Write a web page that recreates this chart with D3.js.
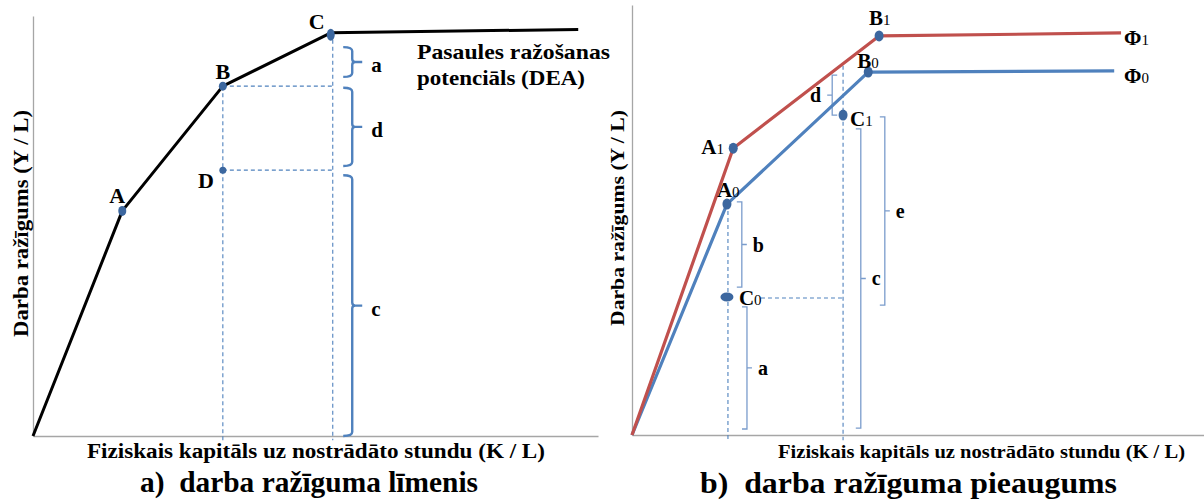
<!DOCTYPE html>
<html>
<head>
<meta charset="utf-8">
<script src="https://cdn.jsdelivr.net/npm/d3@7"></script>
<style>
  body { margin: 0; background: #fff; }
  svg { display: block; }
  text { font-family: "Liberation Serif", "Times New Roman", serif; font-weight: bold; fill: #000; }
</style>
</head>
<body>
<svg id="chart" width="1204" height="501"></svg>
<script>
// ---------- Panel a: labour productivity level ----------
// World production frontier (K/L, Y/L), relative units
const frontierA = [[0, 0], [15.8, 53.6], [33.6, 83.3], [52.7, 96.0], [96.5, 96.8]];
const pointsA = [
  { id: "A", x: 15.8, y: 53.6 },
  { id: "B", x: 33.6, y: 83.3 },
  { id: "C", x: 52.7, y: 96.0 },
  { id: "D", x: 33.6, y: 63.3 }
];
// Gap braces: label, upper and lower Y/L bound
const bracesA = [
  { label: "a", top: 92.6, bottom: 85.5 },
  { label: "d", top: 82.9, bottom: 64.3 },
  { label: "c", top: 62.1, bottom: 0 }
];
const braceAX = 56.5;
const frontierLabelA = ["Pasaules ražošanas", "potenciāls (DEA)"];

// ---------- Panel b: labour productivity growth ----------
const frontier1 = [[0, 0], [17.7, 66.7], [43.2, 92.8], [85.5, 93.5]];
const frontier0 = [[0, 0], [16.6, 53.7], [41.3, 84.4], [84.3, 84.7]];
const pointsB = [
  { id: "A", sub: "1", x: 17.7, y: 66.7 },
  { id: "B", sub: "1", x: 43.2, y: 92.8 },
  { id: "A", sub: "0", x: 16.6, y: 53.7 },
  { id: "B", sub: "0", x: 41.3, y: 84.4 },
  { id: "C", sub: "1", x: 36.9, y: 74.4 },
  { id: "C", sub: "0", x: 16.6, y: 32.1 }
];
const bracesB = [
  { label: "d", x: 35.0, top: 83.7, bottom: 74.4, side: "left" },
  { label: "e", x: 44.2, top: 74.0, bottom: 30.2, side: "right" },
  { label: "c", x: 40.0, top: 71.2, bottom: 1.6, side: "right" },
  { label: "b", x: 19.2, top: 54.2, bottom: 34.4, side: "right" },
  { label: "a", x: 20.1, top: 29.8, bottom: 1.4, side: "right" }
];
const seriesLabels = [{ sym: "Φ", sub: "1" }, { sym: "Φ", sub: "0" }];

const xTitle = "Fiziskais kapitāls uz nostrādāto stundu (K / L)";
const yTitle = "Darba ražīgums (Y / L)";
const panelTitles = ["a)\u00a0 darba ražīguma līmenis", "b)\u00a0 darba ražīguma pieaugums"];

// ---------- drawing ----------
const svg = d3.select("#chart");
const BLUE = "#4f81bd", RED = "#c0504d", DOT = "#3c679f", AXIS = "#a6a6a6";

function drawAxes(g, x, y) {
  g.append("g").attr("transform", `translate(0,${y(0)})`)
    .call(d3.axisBottom(x).ticks(0).tickSizeOuter(0))
    .select(".domain").attr("stroke", AXIS).attr("stroke-width", 1.3);
  g.append("g").attr("transform", `translate(${x(0)},0)`)
    .call(d3.axisLeft(y).ticks(0).tickSizeOuter(0))
    .select(".domain").attr("stroke", AXIS).attr("stroke-width", 1.3);
}

function dashed(g, x1, y1, x2, y2) {
  g.append("line").attr("x1", x1).attr("y1", y1).attr("x2", x2).attr("y2", y2)
    .attr("stroke", BLUE).attr("stroke-width", 1.1).attr("stroke-dasharray", "4,3");
}

// text stretched to a set length
function fitText(g, str, size, len) {
  return g.append("text").attr("font-size", size)
    .attr("textLength", len).attr("lengthAdjust", "spacingAndGlyphs").text(str);
}

// ----- panel a -----
const xa = d3.scaleLinear().domain([0, 100]).range([33, 598]);
const ya = d3.scaleLinear().domain([0, 100]).range([436, 16]);
const ga = svg.append("g");
drawAxes(ga, xa, ya);

const pA = Object.fromEntries(pointsA.map(d => [d.id, d]));
// guide lines from B and D to the C vertical
dashed(ga, xa(pA.B.x), ya(pA.B.y), xa(pA.C.x) + 2, ya(pA.B.y));
dashed(ga, xa(pA.D.x), ya(pA.D.y), xa(pA.C.x) + 2, ya(pA.D.y));
dashed(ga, xa(pA.B.x), ya(pA.B.y), xa(pA.B.x), ya(-1));
dashed(ga, xa(pA.C.x) + 2, ya(pA.C.y), xa(pA.C.x) + 2, ya(-1));

ga.append("path").datum(frontierA)
  .attr("d", d3.line().x(d => xa(d[0])).y(d => ya(d[1])))
  .attr("fill", "none").attr("stroke", "#000").attr("stroke-width", 3)
  .attr("stroke-linejoin", "round");

// curly braces
function curly(xp, y1, y2) {
  const ym = (y1 + y2) / 2, w = 9, t = 10, r = 4;
  return `M${xp - w},${y1} Q${xp},${y1} ${xp},${y1 + r} L${xp},${ym - 3} Q${xp},${ym} ${xp + 3},${ym} L${xp + t},${ym}` +
         ` M${xp + 3},${ym} Q${xp},${ym} ${xp},${ym + 3} L${xp},${y2 - r} Q${xp},${y2} ${xp - w},${y2}`;
}
bracesA.forEach(b => {
  const y1 = ya(b.top), y2 = ya(b.bottom), xp = xa(braceAX);
  ga.append("path").attr("d", curly(xp, y1, y2))
    .attr("fill", "none").attr("stroke", BLUE).attr("stroke-width", 2.4);
  ga.append("text").attr("x", xp + 19).attr("y", (y1 + y2) / 2 + 10)
    .attr("font-size", 21).text(b.label);
});

// points
const dotSizeA = { A: [4, 5], B: [4, 4.5], C: [4, 6], D: [3.5, 3.5] };
const labelOffA = { A: [-5, -8], B: [0, -7], C: [-14, -4], D: [-17, 18] };
pointsA.forEach(p => {
  const [rx, ry] = dotSizeA[p.id];
  ga.append("ellipse").attr("cx", xa(p.x)).attr("cy", ya(p.y) + (p.id === "C" ? 2 : 0))
    .attr("rx", rx).attr("ry", ry).attr("fill", DOT);
  const [dx, dy] = labelOffA[p.id];
  ga.append("text").attr("x", xa(p.x) + dx).attr("y", ya(p.y) + dy)
    .attr("text-anchor", "middle").attr("font-size", 22).text(p.id);
});

[193, 168].forEach((len, i) => {
  fitText(ga, frontierLabelA[i], 21, len).attr("x", 417).attr("y", 59 + i * 26);
});

fitText(ga, xTitle, 20, 458).attr("x", 87).attr("y", 458);
fitText(ga, yTitle, 20, 227).attr("transform", "translate(28,337) rotate(-90)");
fitText(ga, panelTitles[0], 29, 338).attr("x", 140).attr("y", 492);

// ----- panel b -----
const xb = d3.scaleLinear().domain([0, 100]).range([632, 1204]);
const yb = d3.scaleLinear().domain([0, 100]).range([435, 5]);
const gb = svg.append("g");
drawAxes(gb, xb, yb);

const A0 = pointsB[2], C1 = pointsB[4], C0 = pointsB[5];
// red frontier height at the C1 column
const redAt = x => {
  const seg = d3.pairs(frontier1).find(([a, b]) => x >= a[0] && x <= b[0]);
  const t = (x - seg[0][0]) / (seg[1][0] - seg[0][0]);
  return seg[0][1] + t * (seg[1][1] - seg[0][1]);
};
dashed(gb, xb(A0.x) + 1, yb(A0.y), xb(A0.x) + 1, yb(-1.2));
dashed(gb, xb(C1.x), yb(redAt(C1.x)) + 2, xb(C1.x), yb(-1.2));
dashed(gb, xb(C0.x) + 34, yb(C0.y) + 1, xb(C1.x), yb(C0.y) + 1);

// straight brackets
bracesB.forEach(b => {
  const xp = xb(b.x), y1 = yb(b.top), y2 = yb(b.bottom), ym = (y1 + y2) / 2;
  const s = b.side === "right" ? 1 : -1;
  gb.append("path")
    .attr("d", `M${xp - 5 * s},${y1} H${xp} V${y2} H${xp - 5 * s} M${xp},${ym} H${xp + 5 * s}`)
    .attr("fill", "none").attr("stroke", "#7a9ccc").attr("stroke-width", 1.3);
  gb.append("text").attr("x", xp + 11 * s).attr("y", ym + 7)
    .attr("text-anchor", s > 0 ? "start" : "end").attr("font-size", 20).text(b.label);
});

const lineB = d3.line().x(d => xb(d[0])).y(d => yb(d[1]));
gb.append("path").datum(frontier0).attr("d", lineB)
  .attr("fill", "none").attr("stroke", BLUE).attr("stroke-width", 3.2).attr("stroke-linejoin", "round");
gb.append("path").datum(frontier1).attr("d", lineB)
  .attr("fill", "none").attr("stroke", RED).attr("stroke-width", 3.2).attr("stroke-linejoin", "round");

// labelled points with subscripts
const labelOffB = { A1: [-32, 6], B1: [-10, -11], A0: [-10, -7], B0: [-11, -4], C1: [7, 11], C0: [12, 8] };
const dotSizeB = { C0: [6.5, 4.5] };
pointsB.forEach(p => {
  const key = p.id + p.sub;
  const [rx, ry] = dotSizeB[key] || [4.5, 5.5];
  gb.append("ellipse").attr("cx", xb(p.x)).attr("cy", yb(p.y)).attr("rx", rx).attr("ry", ry).attr("fill", DOT);
  const [dx, dy] = labelOffB[key];
  const t = gb.append("text").attr("x", xb(p.x) + dx).attr("y", yb(p.y) + dy).attr("font-size", 21);
  t.append("tspan").text(p.id);
  t.append("tspan").attr("font-size", 15).attr("font-weight", "normal").text(p.sub);
});

// series end labels
[frontier1, frontier0].forEach((f, i) => {
  const end = f[f.length - 1];
  const t = gb.append("text").attr("x", 1124).attr("y", yb(end[1]) + 12).attr("font-size", 21);
  t.append("tspan").text(seriesLabels[i].sym);
  t.append("tspan").attr("font-size", 15).attr("font-weight", "normal").text(seriesLabels[i].sub);
});

fitText(gb, xTitle, 18.5, 407).attr("x", 778).attr("y", 458);
fitText(gb, yTitle, 18.5, 216).attr("transform", "translate(624,326) rotate(-90)");
fitText(gb, panelTitles[1], 29, 417).attr("x", 700).attr("y", 493);
</script>
</body>
</html>
